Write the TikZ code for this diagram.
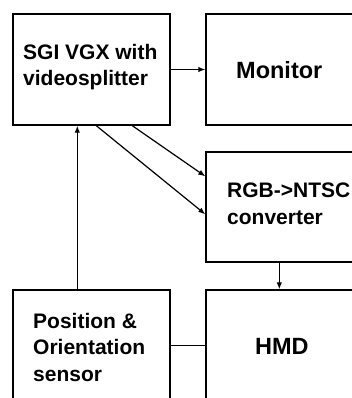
\documentclass[tikz,border=0pt]{standalone}
\usepackage{fontspec}
\setmainfont{Liberation Sans}
\usetikzlibrary{arrows.meta,calc}
\begin{document}
\begin{tikzpicture}[x=1pt,y=-1pt,
  box/.style={draw,line width=1.4pt,rectangle,inner sep=0pt},
  lbl/.style={anchor=west,align=left,inner sep=0pt,font=\bfseries\fontsize{21}{26.5}\selectfont},
  big/.style={anchor=west,inner sep=0pt,font=\bfseries\fontsize{23.5}{27}\selectfont},
  wire/.style={line width=1.2pt},
  arr/.style={wire,-{Latex[length=7pt,width=5.5pt]}}]
\useasboundingbox (0,0) rectangle (352,398);
\clip (0,0) rectangle (352,398);
% blocks
\node[box,minimum width=157pt,minimum height=111pt] (sgi) at (91.5,69.5) {};
\node[box,minimum width=164pt,minimum height=111pt] (mon) at (288,69.5) {};
\node[box,minimum width=164pt,minimum height=110pt] (rgb) at (288,207) {};
\node[box,minimum width=164pt,minimum height=130pt] (hmd) at (288,355) {};
\node[box,minimum width=157pt,minimum height=130pt] (pos) at (91.5,355) {};
% labels
\node[lbl] (tsgi) at (23,67) {SGI VGX with\\videosplitter};
\node[big] (tmon) at (236,70) {Monitor};
\node[lbl] (trgb) at (227,204) {RGB->NTSC\\converter};
\node[lbl] (tpos) at (33,347) {Position \&\\Orientation\\sensor};
\node[big] (thmd) at (255,346) {HMD};
% connection points
\coordinate (s1) at ($(sgi.south west)+(84,0)$);
\coordinate (s2) at ($(sgi.south west)+(120,0)$);
\coordinate (r1) at ($(rgb.north west)+(0,63)$);
\coordinate (r2) at ($(rgb.north west)+(0,25)$);
\coordinate (rb) at ($(rgb.south west)+(74,0)$);
\coordinate (pt) at ($(pos.north west)+(65,0)$);
\coordinate (pe) at ($(pos.north east)+(0,56)$);
% connectors
\draw[arr] (sgi.east) -- (mon.west);
\draw[arr] (s1) -- (r1);
\draw[arr] (s2) -- (r2);
\draw[arr] (rb) -- (rb |- hmd.north);
\draw[arr] (pt) -- (pt |- sgi.south);
\draw[wire] (pe) -- (pe -| hmd.west);
\end{tikzpicture}
\end{document}
